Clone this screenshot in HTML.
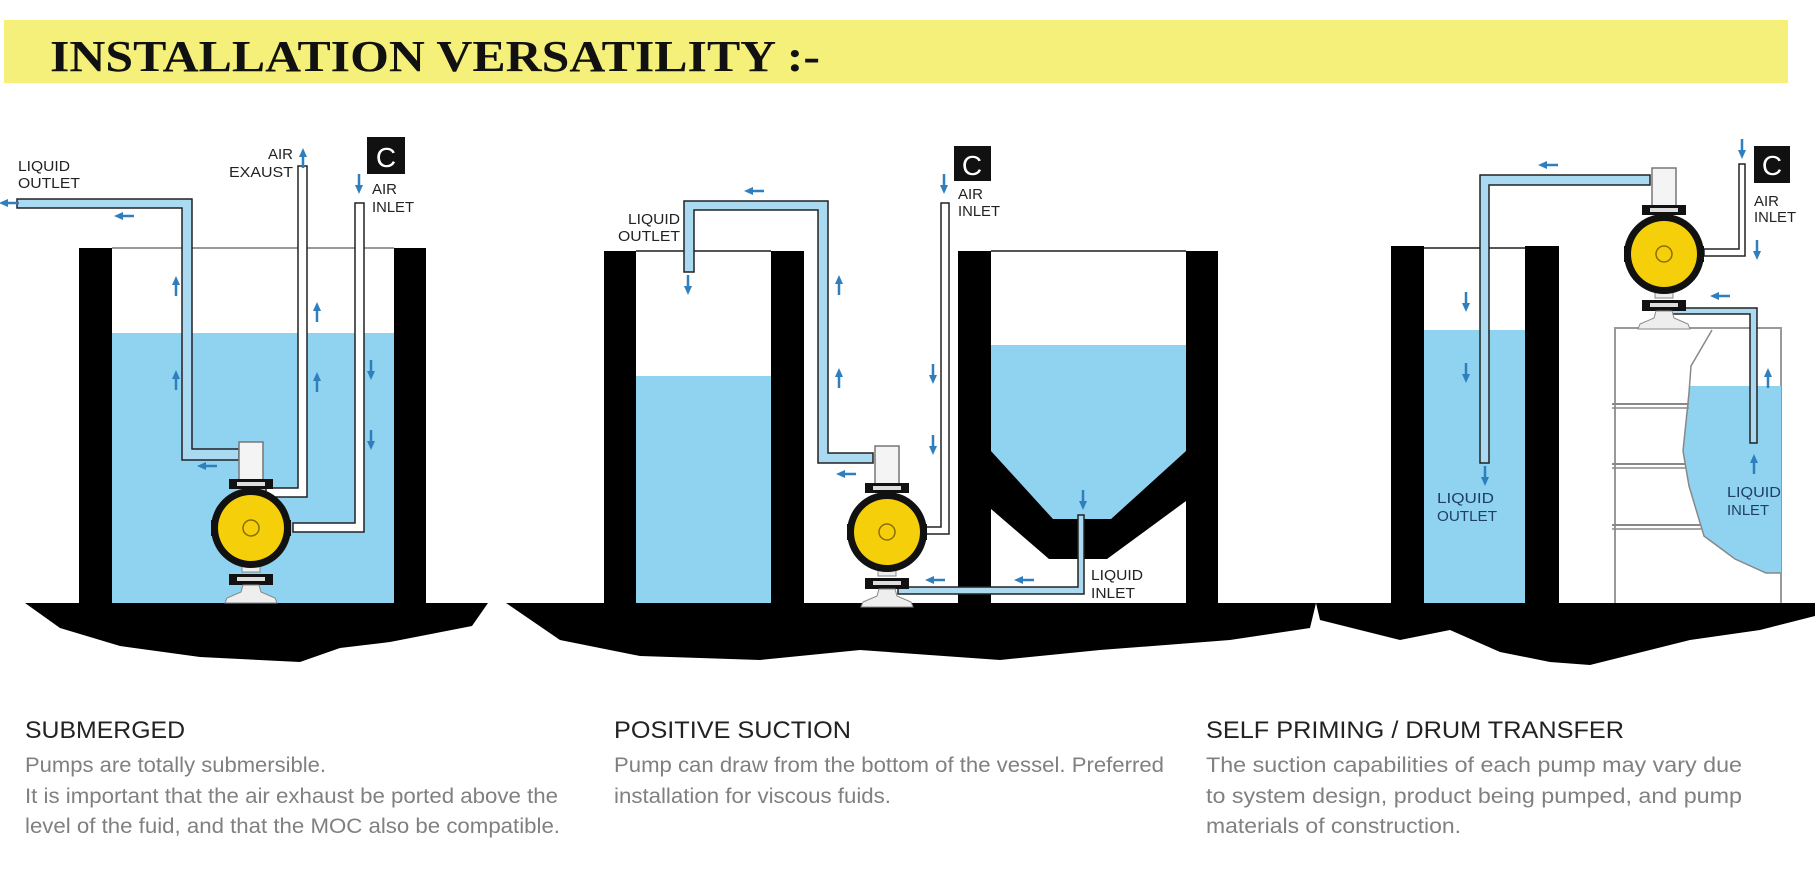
<!DOCTYPE html>
<html><head><meta charset="utf-8"><style>
html,body{margin:0;padding:0;background:#fff;}
svg{display:block;}
.lbl{font-family:"Liberation Sans",sans-serif;font-size:15px;fill:#222;}
.hd{font-family:"Liberation Sans",sans-serif;font-size:24px;fill:#222;}
.bd{font-family:"Liberation Sans",sans-serif;font-size:21px;fill:#808080;}
</style></head><body>
<svg width="1815" height="894" viewBox="0 0 1815 894" xmlns="http://www.w3.org/2000/svg">
<defs>
  <g id="au"><line x1="0" y1="10" x2="0" y2="-2" stroke="#2f7fbf" stroke-width="2.5"/><path d="M-4,-1 L0,-10 L4,-1Z" fill="#2f7fbf"/></g>
  <g id="ad"><line x1="0" y1="-10" x2="0" y2="2" stroke="#2f7fbf" stroke-width="2.5"/><path d="M-4,1 L0,10 L4,1Z" fill="#2f7fbf"/></g>
  <g id="al"><line x1="10" y1="0" x2="-2" y2="0" stroke="#2f7fbf" stroke-width="2.5"/><path d="M-1,-4 L-10,0 L-1,4Z" fill="#2f7fbf"/></g>
  <g id="pump">
    <rect x="-12" y="-86" width="24" height="38" fill="#f4f4f4" stroke="#777" stroke-width="1.5"/>
    <rect x="-9" y="-40" width="18" height="84" fill="#eee" stroke="#888"/>
    <rect x="-22" y="-49" width="44" height="10" fill="#111"/>
    <rect x="-14" y="-46" width="28" height="4" fill="#ddd"/>
    <rect x="-40" y="-8" width="80" height="16" fill="#111"/>
    <circle cx="0" cy="0" r="40" fill="#111"/>
    <circle cx="0" cy="0" r="33" fill="#f5cf0a"/>
    <circle cx="0" cy="0" r="8" fill="none" stroke="#8a6d00" stroke-width="1.5"/>
    <rect x="-22" y="46" width="44" height="11" fill="#111"/>
    <rect x="-14" y="49" width="28" height="4" fill="#ddd"/>
    <path d="M-8,57 L8,57 L10,64 L24,70 L26,75 L-26,75 L-24,70 L-10,64Z" fill="#eee" stroke="#888"/>
  </g>
</defs>

<rect x="4" y="20" width="1784" height="63" fill="#f5f07a"/>
<text x="50" y="71" font-family="'Liberation Serif',serif" font-size="44" font-weight="bold" fill="#111" textLength="770" lengthAdjust="spacingAndGlyphs">INSTALLATION VERSATILITY :-</text>

<!-- ===== PANEL 1 ===== -->
<rect x="112" y="333" width="282" height="270" fill="#8fd3f1"/>
<line x1="112" y1="248" x2="394" y2="248" stroke="#999" stroke-width="2"/>
<rect x="79" y="248" width="33" height="356" fill="#000"/>
<rect x="394" y="248" width="32" height="356" fill="#000"/>
<path d="M25,603 L488,603 L472,626 L390,642 L340,648 L300,662 L200,657 L120,646 L60,628Z" fill="#000"/>
<path d="M17,199 L192,199 L192,449 L239,449 L239,460 L182,460 L182,208 L17,208Z" fill="#a9daf2" stroke="#222" stroke-width="1.5"/>
<path d="M298,166 L307,166 L307,497 L266,497 L266,488 L298,488Z" fill="#fff" stroke="#222" stroke-width="1.5"/>
<path d="M355,203 L364,203 L364,532 L293,532 L293,523 L355,523Z" fill="#fff" stroke="#222" stroke-width="1.5"/>
<use href="#pump" x="251" y="528"/>
<rect x="367" y="137" width="38" height="37" fill="#111"/>
<text x="386" y="167" text-anchor="middle" font-family="'Liberation Sans',sans-serif" font-size="28" fill="#fff">C</text>
<text class="lbl" x="18" y="171" textLength="52" lengthAdjust="spacingAndGlyphs">LIQUID</text>
<text class="lbl" x="18" y="188" textLength="62" lengthAdjust="spacingAndGlyphs">OUTLET</text>
<text class="lbl" x="293" y="159" text-anchor="end">AIR</text>
<text class="lbl" x="293" y="177" text-anchor="end" textLength="64" lengthAdjust="spacingAndGlyphs">EXAUST</text>
<text class="lbl" x="372" y="194">AIR</text>
<text class="lbl" x="372" y="212" textLength="42" lengthAdjust="spacingAndGlyphs">INLET</text>
<use href="#al" x="9" y="203"/>
<use href="#au" x="303" y="158"/>
<use href="#ad" x="359" y="184"/>
<use href="#al" x="124" y="216"/>
<use href="#au" x="176" y="286"/>
<use href="#au" x="176" y="380"/>
<use href="#al" x="207" y="466"/>
<use href="#au" x="317" y="312"/>
<use href="#au" x="317" y="382"/>
<use href="#ad" x="371" y="370"/>
<use href="#ad" x="371" y="440"/>

<!-- ===== PANEL 2 ===== -->
<rect x="636" y="376" width="135" height="228" fill="#8fd3f1"/>
<line x1="636" y1="251" x2="771" y2="251" stroke="#555" stroke-width="2"/>
<rect x="604" y="251" width="32" height="353" fill="#000"/>
<rect x="771" y="251" width="33" height="353" fill="#000"/>
<path d="M991,345 L1186,345 L1186,451 L1111,519 L1053,519 L991,451Z" fill="#8fd3f1"/>
<line x1="991" y1="251" x2="1186" y2="251" stroke="#555" stroke-width="2"/>
<path d="M991,451 L1053,519 L1111,519 L1186,451 L1186,501 L1107,559 L1049,559 L991,509Z" fill="#000"/>
<rect x="958" y="251" width="33" height="353" fill="#000"/>
<rect x="1186" y="251" width="32" height="353" fill="#000"/>
<path d="M506,603 L1316,603 L1310,628 L1230,640 L1100,650 L1000,660 L860,650 L760,660 L640,656 L560,640Z" fill="#000"/>
<path d="M684,272 L684,201 L828,201 L828,453 L873,453 L873,463 L818,463 L818,210 L694,210 L694,272Z" fill="#a9daf2" stroke="#222" stroke-width="1.5"/>
<path d="M941,203 L949,203 L949,534 L925,534 L925,527 L941,527Z" fill="#fff" stroke="#222" stroke-width="1.5"/>
<path d="M898,587 L1078,587 L1078,515 L1084,515 L1084,594 L898,594Z" fill="#a9daf2" stroke="#222" stroke-width="1.5"/>
<use href="#pump" x="887" y="532"/>
<rect x="954" y="146" width="37" height="35" fill="#111"/>
<text x="972" y="175" text-anchor="middle" font-family="'Liberation Sans',sans-serif" font-size="28" fill="#fff">C</text>
<text class="lbl" x="680" y="224" text-anchor="end" textLength="52" lengthAdjust="spacingAndGlyphs">LIQUID</text>
<text class="lbl" x="680" y="241" text-anchor="end" textLength="62" lengthAdjust="spacingAndGlyphs">OUTLET</text>
<text class="lbl" x="958" y="199">AIR</text>
<text class="lbl" x="958" y="216" textLength="42" lengthAdjust="spacingAndGlyphs">INLET</text>
<text class="lbl" x="1091" y="580" textLength="52" lengthAdjust="spacingAndGlyphs">LIQUID</text>
<text class="lbl" x="1091" y="598" textLength="44" lengthAdjust="spacingAndGlyphs">INLET</text>
<use href="#al" x="754" y="191"/>
<use href="#ad" x="688" y="285"/>
<use href="#au" x="839" y="285"/>
<use href="#au" x="839" y="378"/>
<use href="#al" x="846" y="474"/>
<use href="#ad" x="944" y="184"/>
<use href="#ad" x="933" y="374"/>
<use href="#ad" x="933" y="445"/>
<use href="#al" x="935" y="580"/>
<use href="#al" x="1024" y="580"/>
<use href="#ad" x="1083" y="500"/>

<!-- ===== PANEL 3 ===== -->
<rect x="1424" y="330" width="101" height="274" fill="#8fd3f1"/>
<line x1="1424" y1="248" x2="1525" y2="248" stroke="#555" stroke-width="2"/>
<rect x="1391" y="246" width="33" height="358" fill="#000"/>
<rect x="1525" y="246" width="34" height="358" fill="#000"/>
<rect x="1615" y="328" width="166" height="276" fill="#fff" stroke="#999" stroke-width="2"/>
<path d="M1689,386 L1781,386 L1781,573 L1766,573 L1735,559 L1704,536 L1689,486 L1683,451Z" fill="#8fd3f1"/>
<path d="M1712,330 L1691,366 L1689,393 L1683,451 L1689,486 L1704,536 L1735,559 L1766,573 L1781,573" fill="none" stroke="#888" stroke-width="1.5"/>
<line x1="1612" y1="404" x2="1689" y2="404" stroke="#888" stroke-width="2"/><line x1="1612" y1="408" x2="1689" y2="408" stroke="#888" stroke-width="1.5"/>
<line x1="1612" y1="464" x2="1685" y2="464" stroke="#888" stroke-width="2"/><line x1="1612" y1="468" x2="1686" y2="468" stroke="#888" stroke-width="1.5"/>
<line x1="1612" y1="525" x2="1700" y2="525" stroke="#888" stroke-width="2"/><line x1="1612" y1="529" x2="1701" y2="529" stroke="#888" stroke-width="1.5"/>
<path d="M1316,603 L1815,603 L1815,616 L1760,630 L1690,640 L1590,665 L1550,662 L1500,652 L1450,630 L1400,640 L1320,620Z" fill="#000"/>
<path d="M1650,175 L1480,175 L1480,463 L1489,463 L1489,185 L1650,185Z" fill="#a9daf2" stroke="#222" stroke-width="1.5"/>
<path d="M1739,164 L1745,164 L1745,256 L1704,256 L1704,249 L1739,249Z" fill="#fff" stroke="#222" stroke-width="1.5"/>
<path d="M1671,308 L1757,308 L1757,443 L1750,443 L1750,314 L1671,314Z" fill="#a9daf2" stroke="#222" stroke-width="1.5"/>
<use href="#pump" x="1664" y="254"/>
<rect x="1754" y="146" width="36" height="37" fill="#111"/>
<text x="1772" y="175" text-anchor="middle" font-family="'Liberation Sans',sans-serif" font-size="28" fill="#fff">C</text>
<text class="lbl" x="1754" y="206">AIR</text>
<text class="lbl" x="1754" y="222" textLength="42" lengthAdjust="spacingAndGlyphs">INLET</text>
<text class="lbl" x="1437" y="503" style="fill:#1f3f66" textLength="57" lengthAdjust="spacingAndGlyphs">LIQUID</text>
<text class="lbl" x="1437" y="521" style="fill:#1f3f66" textLength="60" lengthAdjust="spacingAndGlyphs">OUTLET</text>
<text class="lbl" x="1727" y="497" style="fill:#1f3f66" textLength="54" lengthAdjust="spacingAndGlyphs">LIQUID</text>
<text class="lbl" x="1727" y="515" style="fill:#1f3f66" textLength="42" lengthAdjust="spacingAndGlyphs">INLET</text>
<use href="#ad" x="1742" y="149"/>
<use href="#ad" x="1757" y="250"/>
<use href="#al" x="1548" y="165"/>
<use href="#al" x="1720" y="296"/>
<use href="#ad" x="1466" y="302"/>
<use href="#ad" x="1466" y="373"/>
<use href="#ad" x="1485" y="476"/>
<use href="#au" x="1768" y="378"/>
<use href="#au" x="1754" y="464"/>

<text class="hd" x="25" y="738" textLength="160" lengthAdjust="spacingAndGlyphs">SUBMERGED</text>
<text class="bd" x="25" y="772" textLength="301" lengthAdjust="spacingAndGlyphs">Pumps are totally submersible.</text>
<text class="bd" x="25" y="803" textLength="533" lengthAdjust="spacingAndGlyphs">It is important that the air exhaust be ported above the</text>
<text class="bd" x="25" y="833" textLength="535" lengthAdjust="spacingAndGlyphs">level of the fuid, and that the MOC also be compatible.</text>

<text class="hd" x="614" y="738" textLength="237" lengthAdjust="spacingAndGlyphs">POSITIVE SUCTION</text>
<text class="bd" x="614" y="772" textLength="550" lengthAdjust="spacingAndGlyphs">Pump can draw from the bottom of the vessel. Preferred</text>
<text class="bd" x="614" y="803" textLength="277" lengthAdjust="spacingAndGlyphs">installation for viscous fuids.</text>

<text class="hd" x="1206" y="738" textLength="418" lengthAdjust="spacingAndGlyphs">SELF PRIMING / DRUM TRANSFER</text>
<text class="bd" x="1206" y="772" textLength="536" lengthAdjust="spacingAndGlyphs">The suction capabilities of each pump may vary due</text>
<text class="bd" x="1206" y="803" textLength="536" lengthAdjust="spacingAndGlyphs">to system design, product being pumped, and pump</text>
<text class="bd" x="1206" y="833" textLength="255" lengthAdjust="spacingAndGlyphs">materials of construction.</text>
</svg>
</body></html>
